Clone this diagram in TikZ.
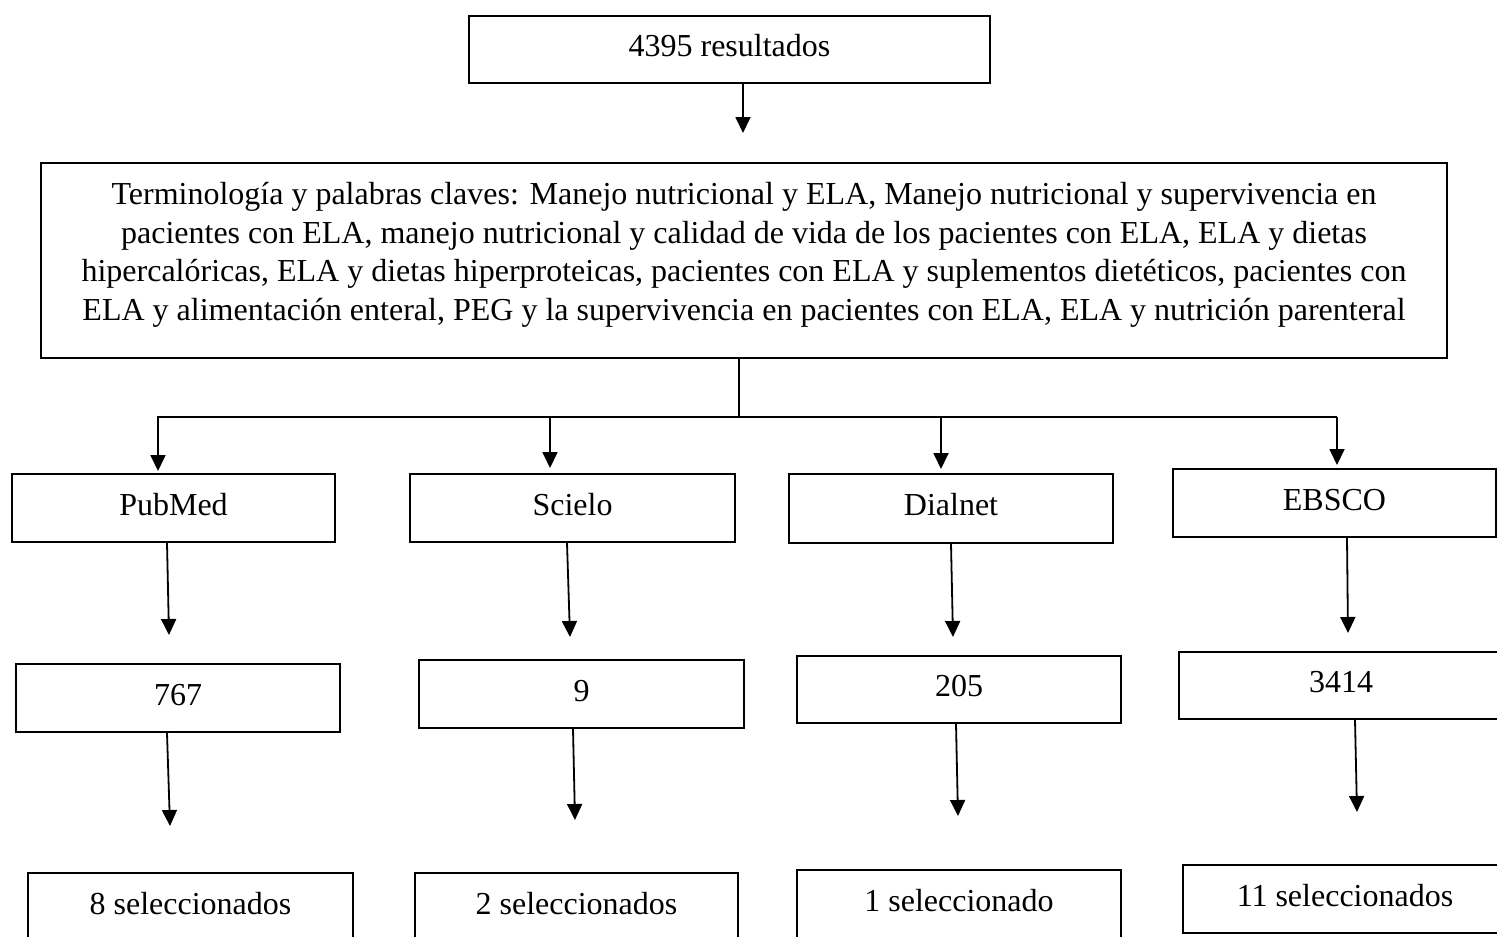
\documentclass[tikz,border=0pt]{standalone}
\usepackage{fontspec}
\setmainfont{Liberation Serif}
\usetikzlibrary{arrows.meta}
\begin{document}
\begin{tikzpicture}[x=1pt,y=-1pt,
  box/.style={draw, line width=1.6pt, inner sep=0pt, text height=22pt, text depth=8pt,
    font=\fontsize{32}{38.5}\selectfont},
  plainbox/.style={draw, line width=1.6pt, inner sep=0pt},
  bigtext/.style={align=center, inner sep=0pt, font=\fontsize{32}{38.5}\selectfont},
  arr/.style={line width=1.8pt, -{Triangle[length=16pt,width=15pt]}},
  ln/.style={line width=1.8pt}]
\useasboundingbox (0,0) rectangle (1497,937);

% boxes
\node[box, minimum width=521pt, minimum height=67pt] (top) at (729.5,49.5) {4395 resultados};
\node[plainbox, minimum width=1406pt, minimum height=195pt] (big) at (744,260.5) {};
\node[bigtext] (bigt) at (744,255) {Terminología y palabras claves: Manejo nutricional y ELA, Manejo nutricional y supervivencia en\\
pacientes con ELA, manejo nutricional y calidad de vida de los pacientes con ELA, ELA y dietas\\
hipercalóricas, ELA y dietas hiperproteicas, pacientes con ELA y suplementos dietéticos, pacientes con\\
ELA y alimentación enteral, PEG y la supervivencia en pacientes con ELA, ELA y nutrición parenteral};

\node[box, minimum width=323pt, minimum height=68pt] (pubmed) at (173.5,508) {PubMed};
\node[box, minimum width=325pt, minimum height=68pt] (scielo) at (572.5,508) {Scielo};
\node[box, minimum width=324pt, minimum height=69pt] (dialnet) at (951,508.5) {Dialnet};
\node[box, minimum width=323pt, minimum height=68pt] (ebsco) at (1334.5,503) {EBSCO};

\node[box, minimum width=324pt, minimum height=68pt] (n767) at (178,698) {767};
\node[box, minimum width=325pt, minimum height=68pt] (n9) at (581.5,694) {9};
\node[box, minimum width=324pt, minimum height=67pt] (n205) at (959,689.5) {205};
\node[box, minimum width=324pt, minimum height=67pt] (n3414) at (1341,685.5) {3414};

\node[box, minimum width=325pt, minimum height=68pt] (s8) at (190.5,907) {8 seleccionados};
\node[box, minimum width=323pt, minimum height=68pt] (s2) at (576.5,907) {2 seleccionados};
\node[box, minimum width=324pt, minimum height=68pt] (s1) at (959,904) {1 seleccionado};
\node[box, minimum width=324pt, minimum height=68pt] (s11) at (1345,899) {11 seleccionados};

% free ends of connectors
\coordinate (t0) at (743,133);
\coordinate (hub) at (739,417);
\coordinate (pa) at (158,471);
\coordinate (sa) at (550,468);
\coordinate (da) at (941,469);
\coordinate (ea) at (1337,465);
\coordinate (p1) at (169,635);
\coordinate (sc1) at (570,637);
\coordinate (d1) at (953,637);
\coordinate (e1) at (1348,633);
\coordinate (p2) at (170,826);
\coordinate (sc2) at (575,820);
\coordinate (d2) at (958,816);
\coordinate (e2) at (1357,812);

% connectors
\draw[arr] (top.south -| t0) -- (t0);
\draw[ln] (big.south -| hub) -- (hub);
\draw[arr] (hub -| ea) -- (hub) -| (pa);
\draw[arr] (hub -| ea) -- (ea);
\draw[arr] (hub -| sa) -- (sa);
\draw[arr] (hub -| da) -- (da);

\draw[arr] ([xshift=-6.5pt]pubmed.south) -- (p1);
\draw[arr] ([xshift=-5.5pt]scielo.south) -- (sc1);
\draw[arr] (dialnet.south) -- (d1);
\draw[arr] ([xshift=12.5pt]ebsco.south) -- (e1);

\draw[arr] ([xshift=-11pt]n767.south) -- (p2);
\draw[arr] ([xshift=-8.5pt]n9.south) -- (sc2);
\draw[arr] ([xshift=-3pt]n205.south) -- (d2);
\draw[arr] ([xshift=14pt]n3414.south) -- (e2);
\end{tikzpicture}
\end{document}
